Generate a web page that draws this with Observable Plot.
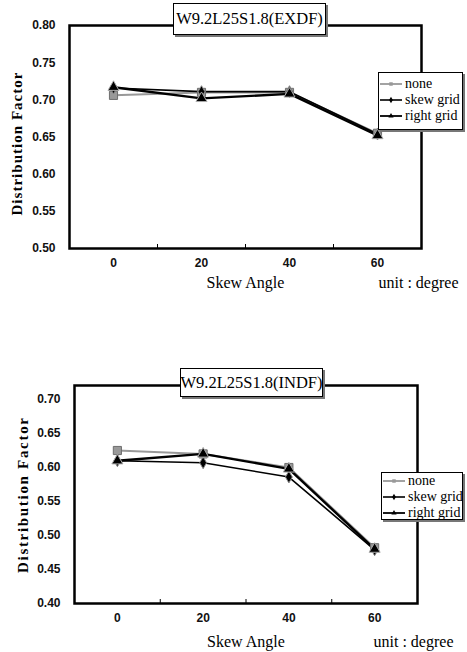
<!DOCTYPE html>
<html>
<head>
<meta charset="utf-8">
<script src="https://cdn.jsdelivr.net/npm/d3@7"></script>
<script src="https://cdn.jsdelivr.net/npm/@observablehq/plot@0.6"></script>
<style>
  body { margin: 0; background: #fff; }
  #wrap { position: relative; width: 467px; height: 652px; overflow: hidden; background: #fff; }
  .chart { position: absolute; left: 0; }
  .titlebox {
    position: absolute; background: #fff; border: 1.5px solid #000;
    box-shadow: 2px 2px 0 #777; box-sizing: border-box;
    font-family: "Liberation Serif", serif; font-size: 16.5px; color: #000;
    display: flex; align-items: center; justify-content: center; z-index: 2;
  }
  .legend {
    position: absolute; background: #fff; border: 1.5px solid #000;
    box-shadow: 2px 2px 0 #777; box-sizing: border-box; z-index: 2;
    font-family: "Liberation Serif", serif; font-size: 14px; color: #000;
  }
  .legend .row { display: flex; align-items: center; height: 16px; white-space: nowrap; }
  .legend svg { flex: none; margin-right: 2px; }
</style>
</head>
<body>
<div id="wrap"></div>
<script>
// ---- data ----
const angles = [0, 20, 40, 60];
const seriesNames = ["none", "skew grid", "right grid"];
const exdfNone  = [0.706, 0.710, 0.710, 0.655];
const exdfSkew  = [0.716, 0.711, 0.711, 0.654];
const exdfRight = [0.717, 0.702, 0.708, 0.652];
const indfNone  = [0.625, 0.620, 0.600, 0.482];
const indfSkew  = [0.610, 0.607, 0.586, 0.479];
const indfRight = [0.610, 0.620, 0.598, 0.480];
const yTicksExdf = [0.50, 0.55, 0.60, 0.65, 0.70, 0.75, 0.80];
const yTicksIndf = [0.40, 0.45, 0.50, 0.55, 0.60, 0.65, 0.70];
const xTicks = [0, 20, 40, 60];
const xMinorTicks = [10, 30, 50];
const chartTitles = ["W9.2L25S1.8(EXDF)", "W9.2L25S1.8(INDF)"];
const xLabel = "Skew Angle";
const yLabel = "Distribution Factor";
const unitLabel = "unit : degree";

function rowsOf(values, series) {
  return angles.map((a, i) => ({angle: a, value: values[i], series}));
}

const styles = {
  "none":       {stroke: "#999", width: 2,   symbol: "square",   fill: "#999", mstroke: "#6e6e6e", r: 4.6},
  "skew grid":  {stroke: "#000", width: 1.6, symbol: "diamond",  fill: "#000", mstroke: "#888",    r: 3.6},
  "right grid": {stroke: "#000", width: 2.4, symbol: "triangle", fill: "#000", mstroke: "#aaa",    r: 4.1}
};

function makeChart(cfg) {
  const sets = [
    rowsOf(cfg.none, seriesNames[0]),
    rowsOf(cfg.skew, seriesNames[1]),
    rowsOf(cfg.right, seriesNames[2])
  ];
  const lineMarks = sets.map(rows => {
    const s = styles[rows[0].series];
    return Plot.line(rows, {x: "angle", y: "value", stroke: s.stroke, strokeWidth: s.width});
  });
  const dotMarks = sets.map(rows => {
    const s = styles[rows[0].series];
    return Plot.dot(rows, {x: "angle", y: "value", symbol: s.symbol, fill: s.fill, stroke: s.mstroke, strokeWidth: 1, r: s.r});
  });
  const svg = Plot.plot({
    width: 467,
    height: cfg.height,
    marginTop: cfg.mt, marginBottom: cfg.mb, marginLeft: cfg.ml, marginRight: cfg.mr,
    x: {domain: [-10, 70]},
    y: {domain: cfg.yDomain},
    style: {background: "#fff", overflow: "visible"},
    marks: [
      ...lineMarks,
      ...dotMarks,
      Plot.frame({stroke: "#000", strokeWidth: 2.5}),
      Plot.axisY({ticks: cfg.yTicks, tickFormat: d3.format(".2f"), tickSize: 0, tickPadding: 14,
                  fontSize: 12, fontWeight: "bold", fontFamily: "Liberation Sans, Arial, sans-serif", label: null, fill: "#111"}),
      Plot.axisX({ticks: xTicks, tickSize: 0, tickPadding: 10,
                  fontSize: 12, fontWeight: "bold", fontFamily: "Liberation Sans, Arial, sans-serif", label: null, fill: "#111"}),
      Plot.axisX({ticks: xMinorTicks, tickSize: 4, dy: -4, tickFormat: () => "", label: null, stroke: "#000", strokeWidth: 1}),
      Plot.text([xLabel], {text: d => d, frameAnchor: "bottom", dy: cfg.xlDy, fontFamily: "Liberation Serif, serif", fontSize: 16, fill: "#000"}),
      Plot.text([unitLabel], {text: d => d, frameAnchor: "bottom-right", textAnchor: "middle", dx: cfg.unitDx, dy: cfg.xlDy, fontFamily: "Liberation Serif, serif", fontSize: 16, fill: "#000"}),
      Plot.text([yLabel], {text: d => d, frameAnchor: "left", textAnchor: "middle", lineAnchor: "middle", rotate: -90, dx: cfg.ylDx, dy: cfg.ylDy, fontFamily: "Liberation Serif, serif", fontWeight: "bold", fontSize: 15, fill: "#000"})
    ]
  });
  d3.select(svg).selectAll("text").filter(function() { return this.textContent === yLabel; })
    .attr("textLength", cfg.yLen).attr("lengthAdjust", "spacing");
  return svg;
}

function legendSample(name) {
  const s = styles[name];
  const ns = "http://www.w3.org/2000/svg";
  const svg = document.createElementNS(ns, "svg");
  svg.setAttribute("width", 24); svg.setAttribute("height", 10);
  const line = document.createElementNS(ns, "line");
  line.setAttribute("x1", 1); line.setAttribute("x2", 23); line.setAttribute("y1", 5); line.setAttribute("y2", 5);
  line.setAttribute("stroke", s.stroke); line.setAttribute("stroke-width", Math.min(s.width, 1.8));
  svg.appendChild(line);
  const m = document.createElementNS(ns, "path");
  const sym = {square: d3.symbolSquare, diamond: d3.symbolDiamond, triangle: d3.symbolTriangle}[s.symbol];
  m.setAttribute("d", d3.symbol(sym, 12)());
  m.setAttribute("transform", "translate(12,5)");
  m.setAttribute("fill", s.fill);
  svg.appendChild(m);
  return svg;
}

function addOverlay(wrap, title, tb, lg) {
  const t = document.createElement("div");
  t.className = "titlebox";
  Object.assign(t.style, {left: tb.left + "px", top: tb.top + "px", width: tb.width + "px", height: tb.height + "px"});
  t.textContent = title;
  wrap.appendChild(t);
  const l = document.createElement("div");
  l.className = "legend";
  Object.assign(l.style, {left: lg.left + "px", top: lg.top + "px", width: lg.width + "px", height: lg.height + "px", paddingTop: lg.pad + "px"});
  seriesNames.forEach(n => {
    const r = document.createElement("div");
    r.className = "row";
    r.appendChild(legendSample(n));
    const sp = document.createElement("span");
    sp.textContent = n;
    r.appendChild(sp);
    l.appendChild(r);
  });
  wrap.appendChild(l);
}

const wrap = document.getElementById("wrap");

const c1 = makeChart({
  none: exdfNone, skew: exdfSkew, right: exdfRight,
  height: 300, mt: 25, mb: 52, ml: 69, mr: 46,
  yDomain: [0.5, 0.8], yTicks: yTicksExdf,
  xlDy: 39, unitDx: -3, ylDx: -52, ylDy: 7, yLen: 143
});
c1.classList.add("chart"); c1.style.top = "0px";
wrap.appendChild(c1);

const c2 = makeChart({
  none: indfNone, skew: indfSkew, right: indfRight,
  height: 322, mt: 55, mb: 49, ml: 74, mr: 50,
  yDomain: [0.4, 0.7206], yTicks: yTicksIndf,
  xlDy: 43, unitDx: -4, ylDx: -51, ylDy: 1, yLen: 155
});
c2.classList.add("chart"); c2.style.top = "330px";
wrap.appendChild(c2);

addOverlay(wrap, chartTitles[0], {left: 173, top: 3, width: 153, height: 32}, {left: 378, top: 72, width: 85, height: 58, pad: 3});
addOverlay(wrap, chartTitles[1], {left: 180, top: 368, width: 143, height: 29}, {left: 381, top: 472, width: 82, height: 48, pad: 0});
</script>
</body>
</html>
